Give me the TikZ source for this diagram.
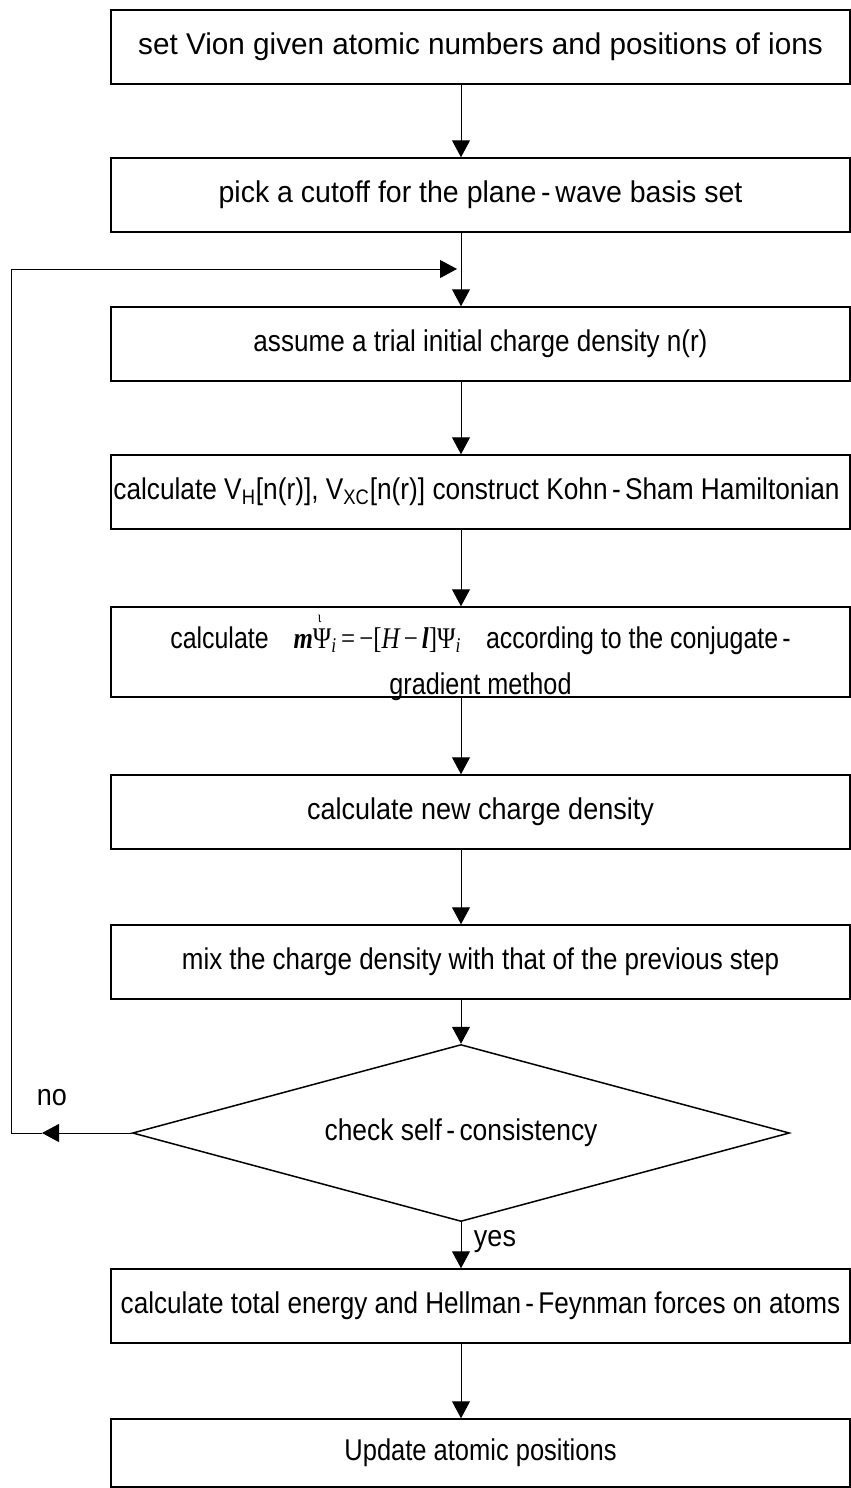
\documentclass[tikz,border=0pt]{standalone}
\usepackage{graphicx}
\usepackage{fontspec}
\setmainfont{Liberation Sans}
\newfontfamily\serifx{Liberation Serif}
\usetikzlibrary{shapes.geometric,arrows.meta}
\newcommand{\sqx}[2]{\scalebox{#1}[1]{#2}}
\begin{document}
\begin{tikzpicture}[x=0.5pt,y=-0.5pt,
  box/.style={draw, line width=0.75pt, minimum width=369.5pt, minimum height=37pt, inner sep=0pt, font=\fontsize{15}{18}\selectfont},
  arr/.style={-{Triangle[length=8.5pt,width=9pt]}, line width=0.5pt},
  plain/.style={line width=0.5pt},
  lbl/.style={font=\fontsize{15}{18}\selectfont, inner sep=0pt}]
\useasboundingbox (0,0) rectangle (851,1488);
\coordinate (ax) at (461,0);
\node[box] (b1) at (480.5,47) {\sqx{0.99}{set Vion given atomic numbers and positions of ions}};
\node[box] (b2) at (480.5,195) {\sqx{0.95}{pick a cutoff for the plane\,-\,wave basis set}};
\node[box] (b3) at (480.5,344) {\sqx{0.87}{assume a trial initial charge density n(r)}};
\node[box] (b4) at (480.5,492) {\hspace*{-4pt}\sqx{0.875}{calculate V\textsubscript{H}[n(r)], V\textsubscript{XC}[n(r)] construct Kohn\,-\,Sham Hamiltonian}};
\node[box, minimum height=45pt] (b5) at (480.5,652) {};
\node[lbl, anchor=base] (t5a) at (480.5,648) {\sqx{0.83}{calculate\quad{\serifx{\bfseries\itshape m}\rlap{\raisebox{0.85em}{\kern0.2em\fontsize{8}{8}\selectfont ι}}Ψ\textsubscript{\itshape i}\,=\,−[{\itshape H}\,−\,{\bfseries\itshape l}]Ψ\textsubscript{\itshape i}}\quad according to the conjugate\,-}};
\node[lbl, anchor=base] (t5b) at (480.5,694) {\sqx{0.84}{gradient method}};
\node[box] (b6) at (480.5,812) {\sqx{0.9}{calculate new charge density}};
\node[box] (b7) at (480.5,962) {\sqx{0.865}{mix the charge density with that of the previous step}};
\node[draw, diamond, line width=0.75pt, minimum width=328.5pt, minimum height=88.5pt, inner sep=0pt, aspect=3.7, font=\fontsize{15}{18}\selectfont] (d) at (461,1133) {\sqx{0.88}{check self\,-\,consistency}};
\node[box] (b8) at (480.5,1306) {\sqx{0.87}{calculate total energy and Hellman\,-\,Feynman forces on atoms}};
\node[box, minimum height=34pt] (b9) at (480.5,1453) {\sqx{0.85}{Update atomic positions}};
\node[lbl] (no) at (52,1098) {\sqx{0.9}{no}};
\node[lbl] (yes) at (495,1242) {\sqx{0.9}{yes}};
\draw[arr] (b1.south -| ax) -- (b2.north -| ax);
\draw[arr] (b2.south -| ax) -- (b3.north -| ax);
\draw[arr] (b3.south -| ax) -- (b4.north -| ax);
\draw[arr] (b4.south -| ax) -- (b5.north -| ax);
\draw[arr] (b5.south -| ax) -- (b6.north -| ax);
\draw[arr] (b6.south -| ax) -- (b7.north -| ax);
\draw[arr] (b7.south -| ax) -- (d.north);
\draw[arr] (d.south) -- (b8.north -| ax);
\draw[arr] (b8.south -| ax) -- (b9.north -| ax);
\coordinate (nt) at (42,1133);
\coordinate (lc) at (11,1133);
\coordinate (lt) at (11,269);
\coordinate (le) at (457,269);
\draw[arr] (d.west) -- (nt);
\draw[plain] (nt) -- (lc) -- (lt);
\draw[arr] (lt) -- (le);
\end{tikzpicture}
\end{document}
